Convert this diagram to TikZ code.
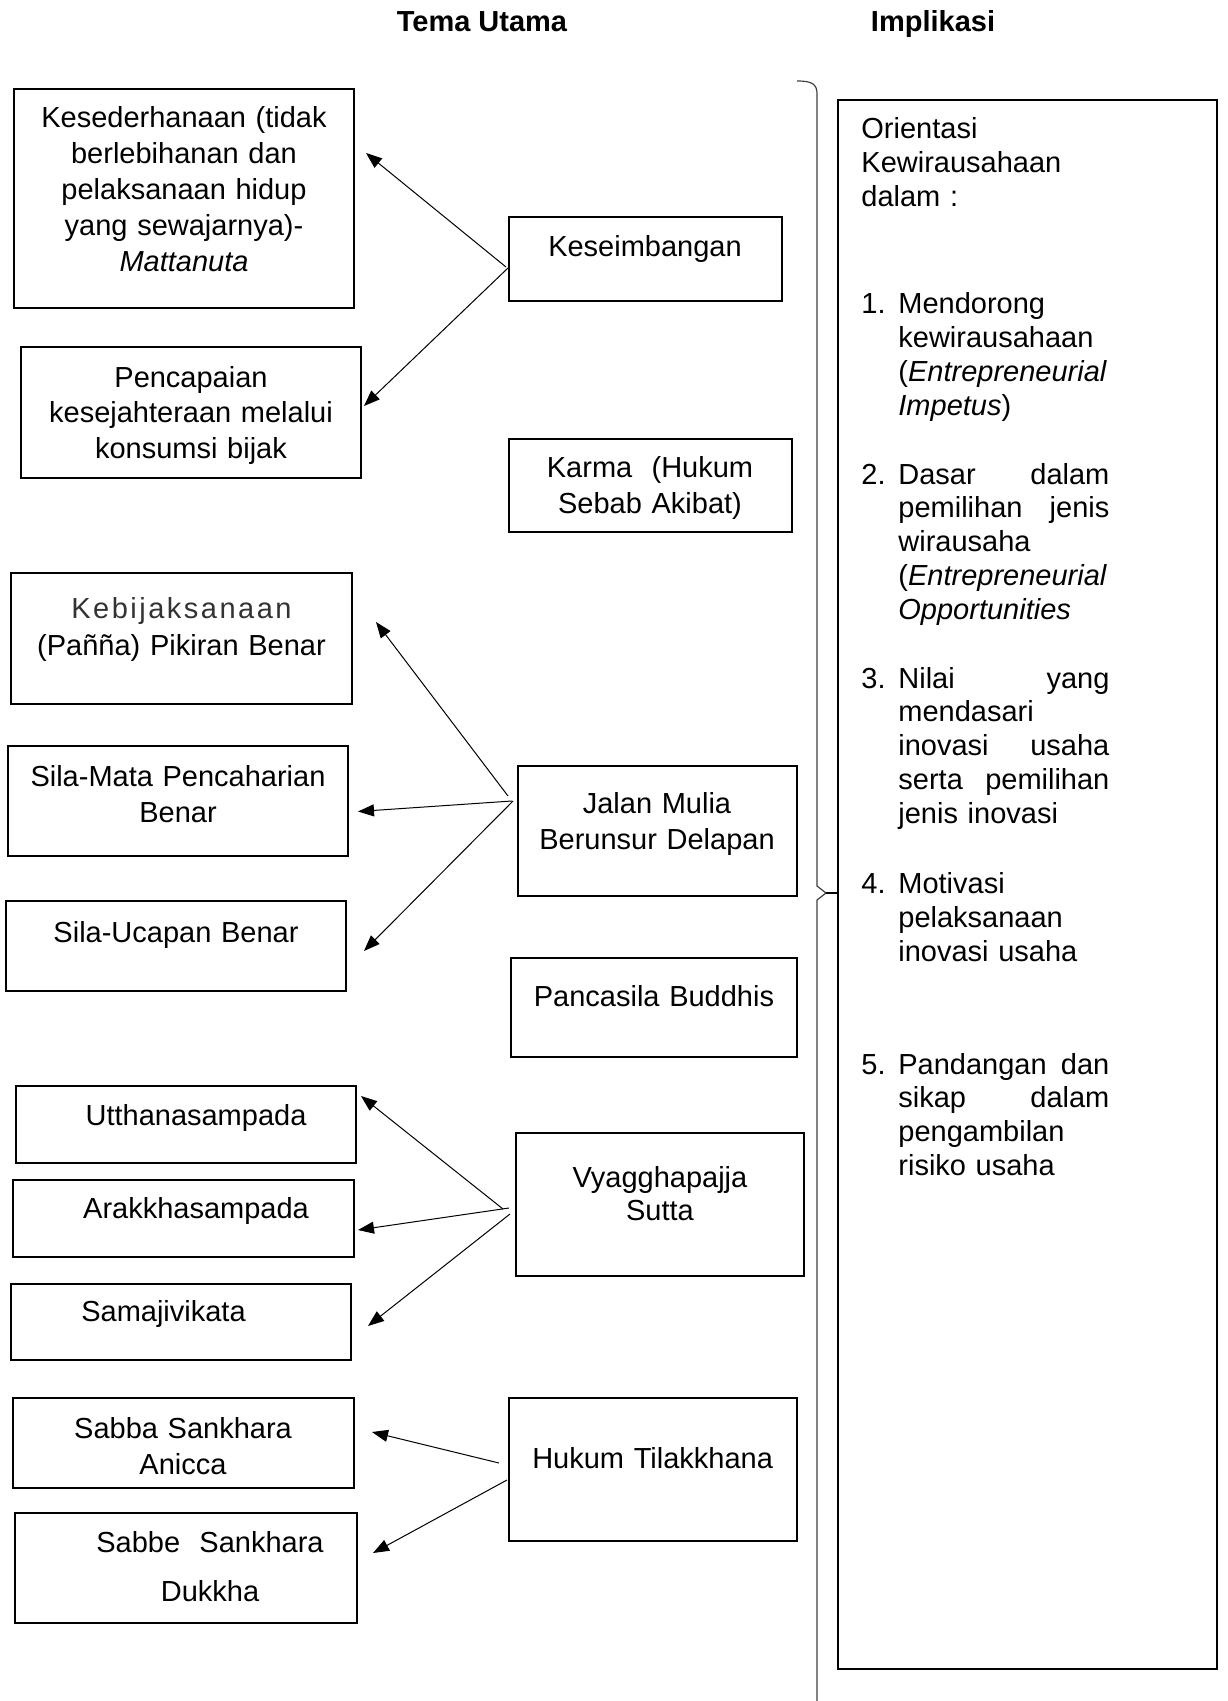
\documentclass[tikz,border=0pt]{standalone}
\usepackage{fontspec}
\setmainfont{Liberation Sans}
\usetikzlibrary{arrows.meta}
% one justified line of a list item (text after the number)
\newcommand\jl[2]{\hbox to 105.5pt{#1\hfill#2}}
\newcommand\ind{\hspace*{18.5pt}}
\newcommand\num[1]{\makebox[18.5pt][l]{#1}}
\begin{document}
\begin{tikzpicture}[x=0.5pt,y=-0.5pt,
  box/.style={draw, line width=1.1pt, inner sep=0pt, outer sep=0pt, anchor=north west},
  lbl/.style={text width=175pt, align=center, anchor=base, inner sep=0pt,
              font=\fontsize{14.5}{18}\selectfont},
  head/.style={anchor=base, inner sep=0pt, font=\fontsize{14.5}{18}\selectfont\bfseries},
  item/.style={text width=124pt, align=left, anchor=base west, inner sep=0pt,
               font=\fontsize{14.5}{16.9}\selectfont},
  arr/.style={-{Triangle[length=8pt,width=6pt]}, line width=0.5pt},
  brace/.style={line width=0.6pt, draw=black!75}]

\fill[white] (0,0) rectangle (1227,1701);
\useasboundingbox (0,0) rectangle (1227,1701);

% box: name, x1, y1, x2, y2 (pixel grid, y downwards)
\newcommand\tbox[5]{\node[box, minimum width={(#4-#2)*0.5pt},
  minimum height={(#5-#3)*0.5pt}] (#1) at (#2,#3) {};}

% column headings
\node[head] (h1) at (482,32) {Tema Utama};
\node[head] (h2) at (933,32) {Implikasi};

% left column
\tbox{b1}{14}{89}{354}{308}
\tbox{b2}{21}{347}{361}{478}
\tbox{b5}{11}{573}{352}{704}
\tbox{b6}{8}{746}{348}{856}
\tbox{b7}{6}{901}{346}{991}
\tbox{b10}{16}{1086}{356}{1163}
\tbox{b11}{13}{1180}{354}{1257}
\tbox{b12}{11}{1284}{351}{1360}
\tbox{b14}{13}{1398}{354}{1488}
\tbox{b15}{15}{1513}{357}{1623}

% middle column
\tbox{b3}{509}{217}{782}{301}
\tbox{b4}{509}{439}{792}{532}
\tbox{b8}{518}{766}{797}{896}
\tbox{b9}{511}{958}{797}{1057}
\tbox{b13}{516}{1133}{804}{1276}
\tbox{b16}{509}{1398}{797}{1541}

% right column
\tbox{b17}{838}{100}{1217}{1669}

% texts of the left column
\node[lbl] (t1) at (184,128) {Kesederhanaan (tidak\\berlebihanan dan\\pelaksanaan hidup\\yang sewajarnya)-\\\textit{Mattanuta}};
\node[lbl, font=\fontsize{14.5}{17.7}\selectfont] (t2) at (191,387.5) {Pencapaian\\kesejahteraan melalui\\konsumsi bijak};
\node[lbl, font=\fontsize{14.5}{18.5}\selectfont] (t5) at (181.5,618) {{\addfontfeature{LetterSpace=8.6}\color{black!80}Kebijaksanaan}\\(Pañña) Pikiran Benar};
\node[lbl] (t6) at (178,786) {Sila-Mata Pencaharian\\Benar};
\node[lbl] (t7) at (176,942) {Sila-Ucapan Benar};
\node[lbl] (t10) at (196,1125.5) {Utthanasampada};
\node[lbl] (t11) at (196,1218.5) {Arakkhasampada};
\node[lbl] (t12) at (163.5,1321.5) {Samajivikata};
\node[lbl] (t14) at (183,1438) {Sabba Sankhara\\Anicca};
\node[lbl, font=\fontsize{14.5}{24.5}\selectfont] (t15) at (210,1552) {Sabbe\ \ Sankhara\\Dukkha};

% texts of the middle column
\node[lbl] (t3) at (645,257) {Keseimbangan};
\node[lbl] (t4) at (650,477) {Karma\ \ (Hukum\\Sebab Akibat)};
\node[lbl] (t8) at (657,813) {Jalan Mulia\\Berunsur Delapan};
\node[lbl] (t9) at (654,1006) {Pancasila Buddhis};
\node[lbl, font=\fontsize{14.5}{16.8}\selectfont] (t13) at (660,1187) {Vyagghapajja\\Sutta};
\node[lbl] (t16) at (652.6,1468) {Hukum Tilakkhana};

% texts of the right column
\node[item] (r0) at (861,139) {Orientasi\\Kewirausahaan\\dalam :};
\node[item] (r1) at (861,314) {\num{1.}Mendorong\\\ind kewirausahaan\\\ind (\textit{Entrepreneurial}\\\ind\textit{Impetus})};
\node[item] (r2) at (861,484) {\num{2.}\jl{Dasar}{dalam}\\\ind\jl{pemilihan}{jenis}\\\ind wirausaha\\\ind (\textit{Entrepreneurial}\\\ind\textit{Opportunities}};
\node[item] (r3) at (861,688) {\num{3.}\jl{Nilai}{yang}\\\ind mendasari\\\ind\jl{inovasi}{usaha}\\\ind\jl{serta}{pemilihan}\\\ind jenis inovasi};
\node[item] (r4) at (861,893.6) {\num{4.}Motivasi\\\ind pelaksanaan\\\ind inovasi usaha};
\node[item] (r5) at (861,1074) {\num{5.}\jl{Pandangan}{dan}\\\ind\jl{sikap}{dalam}\\\ind pengambilan\\\ind risiko usaha};

% arrow ends
\coordinate (s3a) at (506,267);  \coordinate (e1)  at (366,153);
\coordinate (s3b) at (508,268);  \coordinate (e2)  at (364,406);
\coordinate (s8a) at (508,796);  \coordinate (e5)  at (376,622);
\coordinate (s8b) at (512,801);  \coordinate (e6)  at (358,811.5);
\coordinate (s8c) at (513,801);  \coordinate (e7)  at (364,951);
\coordinate (s13a) at (503,1209); \coordinate (e10) at (361,1096);
\coordinate (s13b) at (509,1208); \coordinate (e11) at (358,1230);
\coordinate (s13c) at (510,1214); \coordinate (e12) at (368,1326);
\coordinate (s16a) at (499,1463); \coordinate (e14) at (372,1432);
\coordinate (s16b) at (507,1480); \coordinate (e15) at (373,1553);

\draw[arr] (s3a) -- (e1);
\draw[arr] (s3b) -- (e2);
\draw[arr] (s8a) -- (e5);
\draw[arr] (s8b) -- (e6);
\draw[arr] (s8c) -- (e7);
\draw[arr] (s13a) -- (e10);
\draw[arr] (s13b) -- (e11);
\draw[arr] (s13c) -- (e12);
\draw[arr] (s16a) -- (e14);
\draw[arr] (s16b) -- (e15);

% right brace joining the themes to their implications
\draw[brace] (797,81) .. controls (812,81) and (817,84) .. (817,94)
  -- (817,886) -- (826,893) -- (817,900) -- (817,1701);
\draw[line width=0.9pt] (826,893) -- (b17.west |- 826,893);
\end{tikzpicture}
\end{document}
